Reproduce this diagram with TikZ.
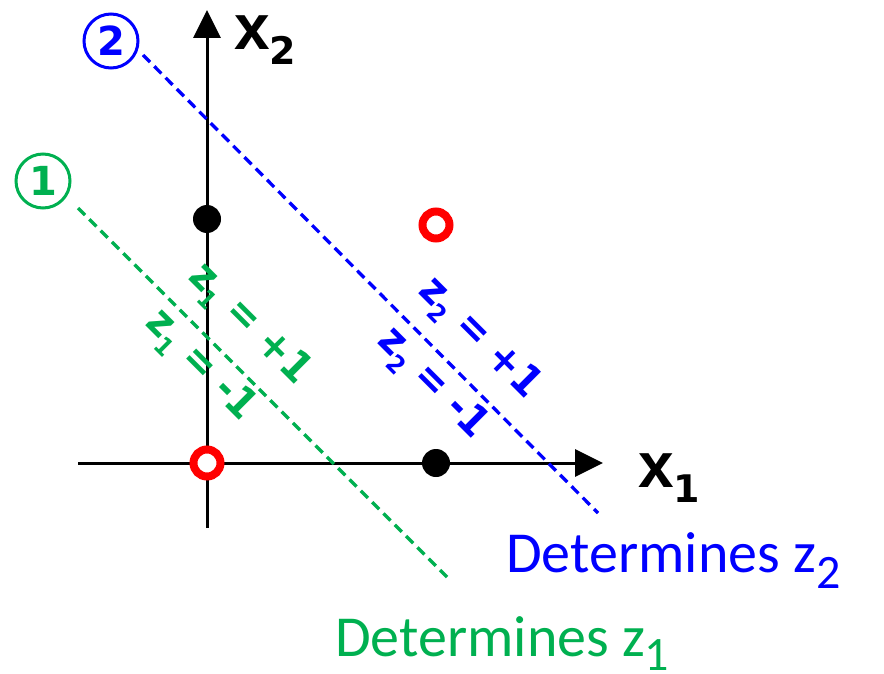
\documentclass[tikz,border=0pt]{standalone}
\usepackage{fontspec}
\setmainfont{Liberation Sans}
\newfontfamily\calfont{Carlito}
\newfontfamily\dvfont{DejaVu Sans}
\newfontfamily\dvcfont{DejaVu Sans Condensed}
\usetikzlibrary{arrows.meta}
\definecolor{zgreen}{RGB}{0,176,80}
\definecolor{zblue}{RGB}{0,0,255}
\definecolor{zred}{RGB}{255,0,0}
\newcommand{\lsub}[3]{\raisebox{-#2pt}{\fontsize{#3}{#3}\selectfont #1}}
\tikzset{
  axis/.style={line width=3pt,-{Triangle[length=28pt,width=27pt]}},
  sepline/.style={line width=3.3pt,dash pattern=on 10pt off 6pt},
  blackdot/.style={circle,fill=black,inner sep=0pt,minimum size=28pt},
  reddot/.style={circle,draw=zred,line width=8pt,fill=white,inner sep=0pt,minimum size=27pt},
  circnum/.style={circle,draw,line width=3pt,inner sep=0pt,minimum size=54pt,font=\dvfont\bfseries\fontsize{40}{40}\selectfont},
  zlabel/.style={rotate=-45,inner sep=0pt,font=\dvcfont\bfseries\fontsize{42}{44}\selectfont},
  axlabel/.style={inner sep=0pt,anchor=base west,font=\bfseries\fontsize{64}{64}\selectfont},
  detlabel/.style={inner sep=0pt,anchor=base west,font=\calfont\fontsize{58}{60}\selectfont}
}
\begin{document}
\begin{tikzpicture}[x=1pt,y=-1pt]
\useasboundingbox (0,0) rectangle (884,674);
% axes
\coordinate (xs) at (78,463);
\coordinate (xe) at (603,463);
\coordinate (ys) at (207,528);
\coordinate (ye) at (207,10);
\draw[axis] (xs) -- (xe);
\draw[axis] (ys) -- (ye);
\node[axlabel] (x1) at (638,487) {x\lsub{\dvfont 1}{15}{38}};
\node[axlabel] (x2) at (234,50) {x\lsub{\dvfont 2}{15}{38}};
% separating lines
\node[circnum,draw=zgreen,text=zgreen] (n1) at (43,181) {1};
\node[circnum,draw=zblue,text=zblue] (n2) at (111,41) {2};
\coordinate (g1) at (78,208);
\coordinate (g2) at (448,578);
\coordinate (b1) at (143,55);
\coordinate (b2) at (598,513);
\draw[sepline,zgreen] (g1) -- (g2);
\draw[sepline,zblue] (b1) -- (b2);
% data points
\node[blackdot] (p01) at (207,219) {};
\node[blackdot] (p10) at (436,463) {};
\node[reddot] (p00) at (207,463) {};
\node[reddot] (p11) at (436,225) {};
% line labels
\node[zlabel,text=zgreen] (gp) at (249,325) {z\lsub{1}{10}{25} = +1};
\node[zlabel,text=zgreen] (gm) at (200,366) {z\lsub{1}{10}{25} = -1};
\node[zlabel,text=zblue] (bp) at (479,339) {z\lsub{2}{10}{25} = +1};
\node[zlabel,text=zblue] (bm) at (432,384) {z\lsub{2}{10}{25} = -1};
% captions
\node[detlabel,text=zblue] (d2) at (506,572) {Determines z\lsub{2}{16}{48}};
\node[detlabel,text=zgreen] (d1) at (335,656) {Determines z\lsub{1}{14}{48}};
\end{tikzpicture}
\end{document}
